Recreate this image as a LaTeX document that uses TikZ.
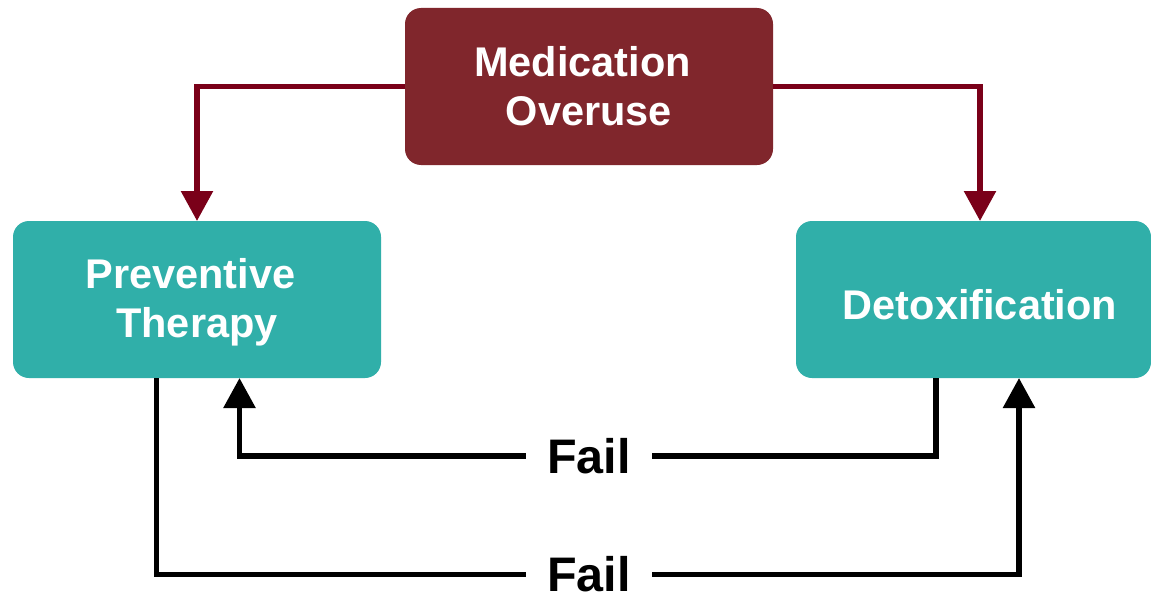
\documentclass[tikz,border=0pt]{standalone}
\usepackage{fontspec}
\setmainfont{Liberation Sans}
\usetikzlibrary{arrows.meta,calc}
\definecolor{medred}{RGB}{128,38,44}
\definecolor{arrred}{RGB}{122,0,25}
\definecolor{teal}{RGB}{48,175,169}
\begin{document}
\begin{tikzpicture}[x=1pt,y=-1pt,
  boxbase/.style={rectangle,rounded corners=16pt,inner sep=0pt,outer sep=0pt,
     minimum height=157pt,text=white,align=center,
     font=\fontsize{41.5}{49}\selectfont\bfseries},
  redbox/.style={boxbase,fill=medred,minimum width=368pt},
  tealbox/.style={boxbase,fill=teal},
  redarrow/.style={draw=arrred,line width=5.7pt,-{Triangle[width=31pt,length=30pt]}},
  blackline/.style={draw=black,line width=5.7pt},
  blackarrow/.style={blackline,-{Triangle[width=31pt,length=30pt]}},
  faillabel/.style={inner xsep=21.5pt,inner ysep=0pt,outer sep=0pt,
     font=\fontsize{48.5}{56}\selectfont\bfseries}]
\useasboundingbox (0,0) rectangle (1151,594);
\fill[white] (0,0) rectangle (1151,594);
\node[redbox] (med) at (589,86.5) {Medication\hspace*{13pt}\\Overuse};
\node[tealbox,minimum width=368pt] (prev) at (197,299.5) {};
\node[text=white,align=center,font=\fontsize{41.5}{49}\selectfont\bfseries,inner sep=0pt]
  (prevtext) at (197,302.5) {Preventive\hspace*{13pt}\\Therapy};
\node[tealbox,minimum width=355pt,
  label={[text=white,font=\fontsize{41.5}{49}\selectfont\bfseries,xshift=6.5pt,yshift=-5pt]center:Detoxification}]
  (detox) at (973.5,299.5) {};
\node[faillabel] (fail1) at (589,456) {Fail};
\node[faillabel] (fail2) at (589,574.5) {Fail};
% red arrows
\draw[redarrow] (med.west) -| (prev.north);
\draw[redarrow] (med.east) -| ($(detox.north)+(6.5,0)$);
% upper fail loop: detox -> preventive
\draw[blackline] ($(detox.south)+(-37.5,0)$) |- (fail1.east);
\draw[blackarrow] (fail1.west) -| ($(prev.south)+(42.5,0)$);
% lower fail loop: preventive -> detox
\draw[blackline] ($(prev.south)+(-40.5,0)$) |- (fail2.west);
\draw[blackarrow] (fail2.east) -| ($(detox.south)+(45.5,0)$);
\end{tikzpicture}
\end{document}
